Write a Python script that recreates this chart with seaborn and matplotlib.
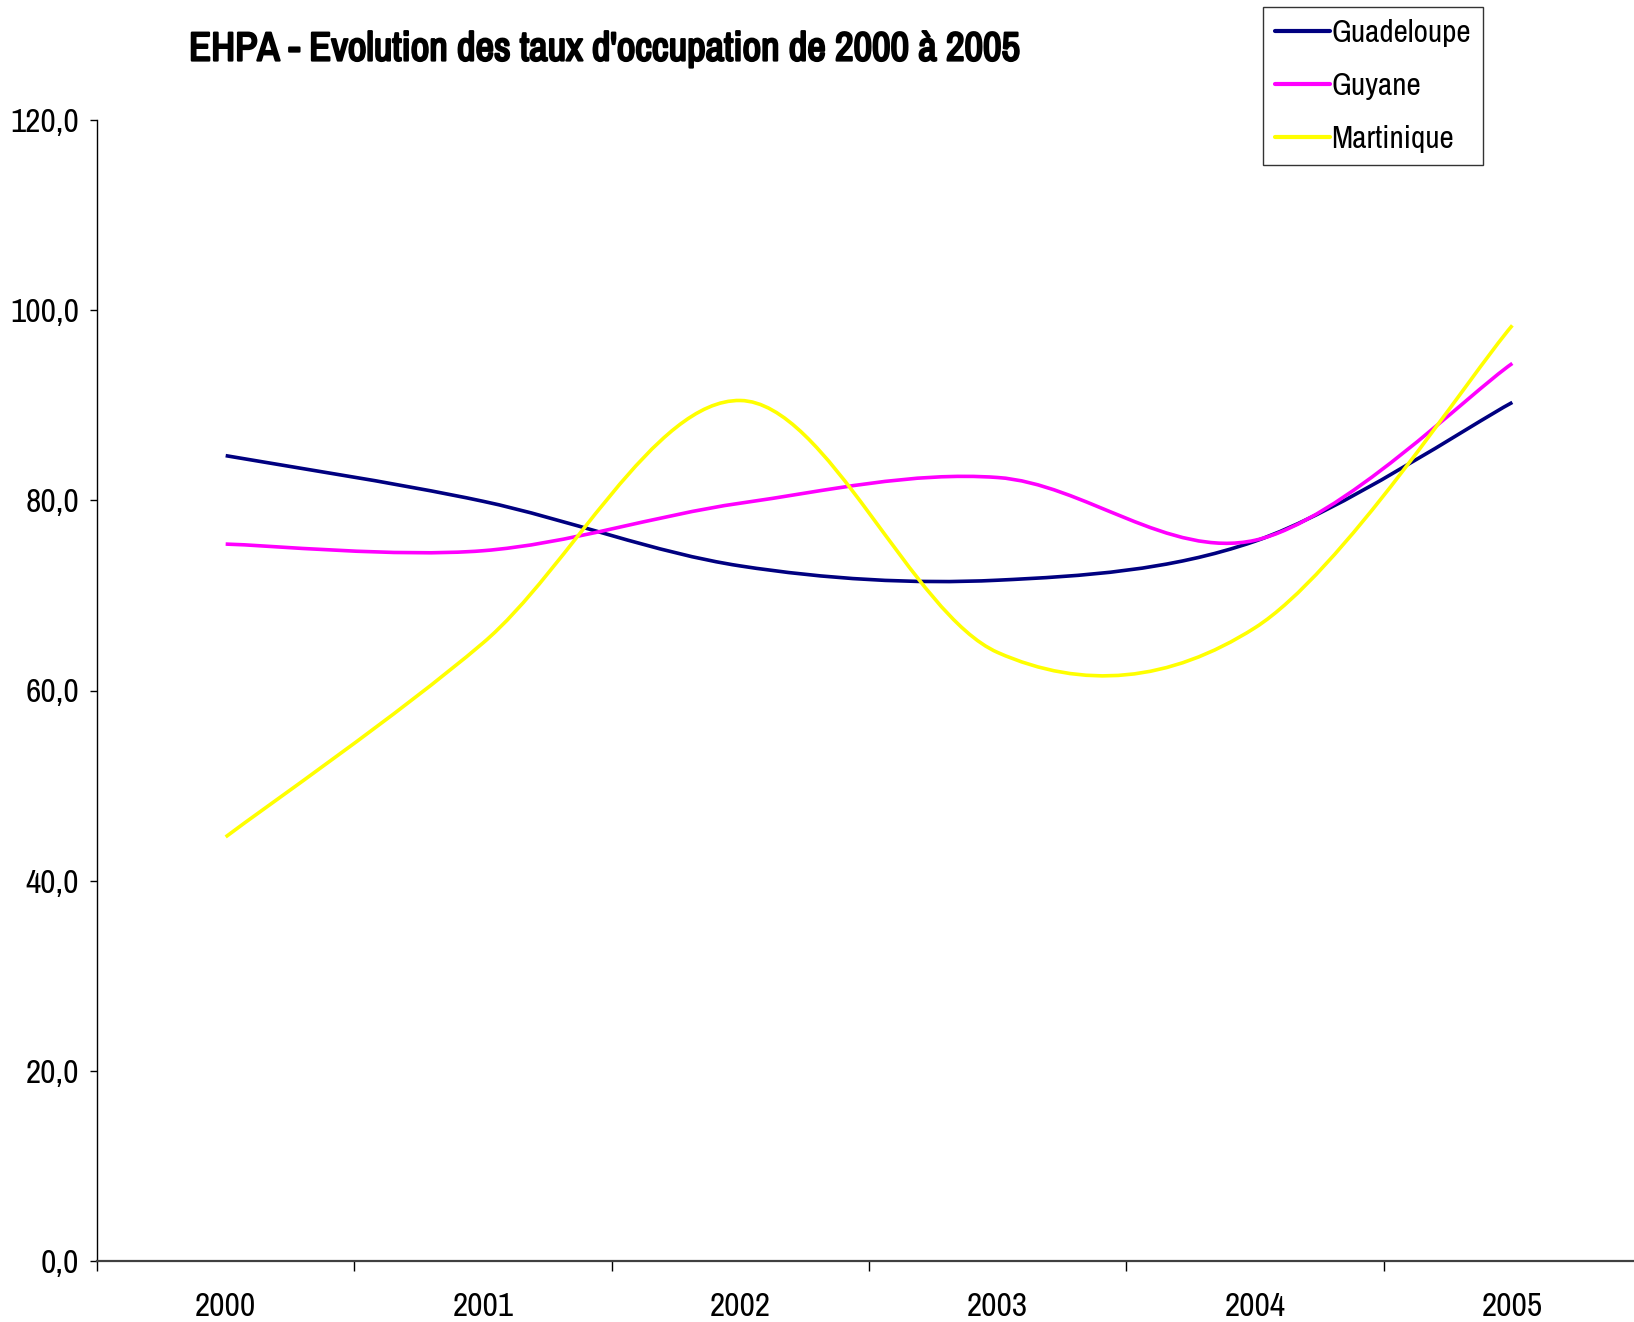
import numpy as np
import pandas as pd
import seaborn as sns
import matplotlib.pyplot as plt
import matplotlib.patheffects as pe
from matplotlib.path import Path
from matplotlib.patches import PathPatch
from matplotlib.lines import Line2D
from matplotlib.ticker import FuncFormatter

# data
years = ['2000', '2001', '2002', '2003', '2004', '2005']
guadeloupe = [84.7, 79.9, 73.1, 71.6, 75.7, 90.3]
guyane = [75.4, 74.7, 79.7, 82.4, 75.8, 94.4]
martinique = [44.6, 65.0, 90.5, 64.0, 66.6, 98.4]

regions = ['Guadeloupe', 'Guyane', 'Martinique']
colors = {'Guadeloupe': '#000080', 'Guyane': '#FF00FF', 'Martinique': '#FFFF00'}

df = pd.DataFrame({'Guadeloupe': guadeloupe, 'Guyane': guyane,
                   'Martinique': martinique}, index=years)

sns.set_theme(style="white")
plt.rcParams['font.family'] = ['Archivo Narrow', 'Liberation Sans', 'DejaVu Sans']

W, H = 1634, 1322
fig = plt.figure(figsize=(W / 100, H / 100), dpi=100)
left, right, top, bottom = 97, 1641, 120, 1261
ax = fig.add_axes([left / W, 1 - bottom / H, (right - left) / W, (bottom - top) / H])


def smooth_path(vals):
    # excel-like smoothed line: cubic bezier through each data point
    x = np.arange(len(vals), dtype=float)
    y = np.asarray(vals, dtype=float)
    pts = np.column_stack([x, y])
    ext = np.vstack([pts[0], pts, pts[-1]])
    verts = [pts[0]]
    codes = [Path.MOVETO]
    for i in range(len(pts) - 1):
        p_prev, p0, p1, p_next = ext[i], ext[i + 1], ext[i + 2], ext[i + 3]
        c1 = p0 + (p1 - p_prev) / 6
        c2 = p1 - (p_next - p0) / 6
        verts += [c1, c2, p1]
        codes += [Path.CURVE4] * 3
    return Path(verts, codes)


for r in regions:
    patch = PathPatch(smooth_path(df[r].values), facecolor='none',
                      edgecolor=colors[r], lw=2.6, capstyle='butt', joinstyle='round')
    ax.add_patch(patch)

ax.set_xlim(-0.5, 5.5)
ax.set_ylim(0, 120)
ax.set_yticks(np.arange(0, 121, 20))
ax.yaxis.set_major_formatter(FuncFormatter(lambda v, p: f"{v:.1f}".replace('.', ',')))
ax.set_xticks(range(len(years)))
ax.set_xticklabels(years)
ax.set_xticks(np.arange(-0.5, 5.6, 1), minor=True)
ax.tick_params(axis='x', which='major', length=0, pad=22, labelsize=24, labelcolor='black')
ax.tick_params(axis='x', which='minor', length=7, width=1, color='black', direction='out')
ax.tick_params(axis='y', which='major', length=5, width=1, color='black', direction='out',
               pad=8, labelsize=24, labelcolor='black')
ax.xaxis.set_ticks_position('bottom')
ax.yaxis.set_ticks_position('left')

for s in ['top', 'right']:
    ax.spines[s].set_visible(False)
ax.spines['left'].set_color('black')
ax.spines['left'].set_linewidth(1)
ax.spines['bottom'].set_color('#404040')
ax.spines['bottom'].set_linewidth(1.6)
ax.grid(False)

# the narrow font has no bold face, so thicken it with a stroke
fig.text(189 / W, 1 - 49 / H, "EHPA - Evolution des taux d'occupation de 2000 à 2005",
         ha='left', va='center', fontsize=29.2, color='black',
         path_effects=[pe.withStroke(linewidth=1.6, foreground='black')])

handles = [Line2D([0], [0], color=colors[r], lw=3) for r in regions]
leg = fig.legend(handles, regions, loc='upper left', bbox_to_anchor=(1263 / W, 1 - 7 / H),
                 fontsize=22.5, frameon=True, fancybox=False, handlelength=1.75,
                 handletextpad=0.06, labelspacing=0.8, borderpad=0.38, borderaxespad=0)
leg.get_frame().set_edgecolor('black')
leg.get_frame().set_linewidth(1)
for t in leg.get_texts():
    t.set_color('black')

fig.savefig('out.png', dpi=100)
